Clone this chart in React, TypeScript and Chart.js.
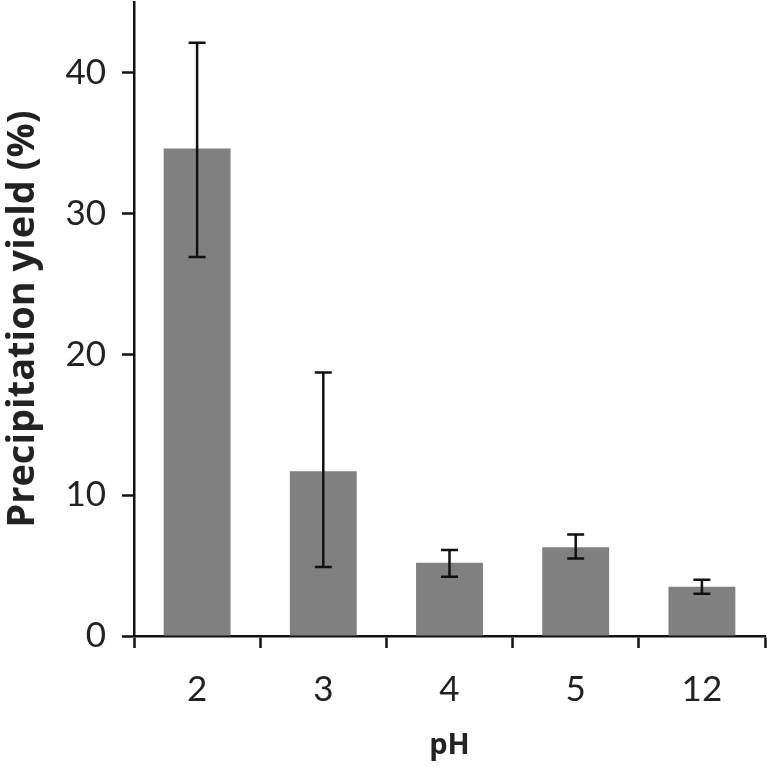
import React, { useEffect, useRef } from "react";
import { Chart, registerables } from "chart.js";

Chart.register(...registerables);

const categories = ["2", "3", "4", "5", "12"];
const yieldValues = [34.6, 11.7, 5.2, 6.3, 3.5];
const errorLow = [26.9, 4.9, 4.2, 5.5, 3.0];
const errorHigh = [42.1, 18.7, 6.1, 7.2, 4.0];
const yTickValues = [0, 10, 20, 30, 40];

const FONT = "Lato";
const TITLE_FONT = "Open Sans";

const errorBarPlugin = {
  id: "errorBars",
  afterDatasetsDraw(chart: any) {
    const ctx = chart.ctx;
    const meta = chart.getDatasetMeta(0);
    const y = chart.scales.y;
    ctx.save();
    ctx.strokeStyle = "#111";
    ctx.lineWidth = 2.5;
    meta.data.forEach((bar: any, i: number) => {
      const x = bar.x;
      const yl = y.getPixelForValue(errorLow[i]);
      const yh = y.getPixelForValue(errorHigh[i]);
      const cap = 8.5;
      ctx.beginPath();
      ctx.moveTo(x, yl);
      ctx.lineTo(x, yh);
      ctx.moveTo(x - cap, yl);
      ctx.lineTo(x + cap, yl);
      ctx.moveTo(x - cap, yh);
      ctx.lineTo(x + cap, yh);
      ctx.stroke();
    });
    ctx.restore();
  },
};

export default function App() {
  const ref = useRef<HTMLCanvasElement>(null);
  useEffect(() => {
    document.body.style.margin = "0";
    const chart = new Chart(ref.current!, {
      type: "bar",
      data: {
        labels: categories,
        datasets: [
          {
            data: yieldValues,
            backgroundColor: "#808080",
            borderWidth: 0,
            barPercentage: 0.53,
            categoryPercentage: 1,
          },
        ],
      },
      options: {
        animation: false,
        responsive: false,
        layout: { padding: { top: 2, right: 2, left: 0, bottom: 0 } },
        plugins: { legend: { display: false }, tooltip: { enabled: false } },
        scales: {
          x: {
            grid: {
              display: true,
              drawOnChartArea: false,
              drawTicks: true,
              tickLength: 12,
              tickWidth: 2.5,
              tickColor: "#111",
              offset: true,
            },
            border: { display: true, color: "#111", width: 2.5 },
            ticks: {
              color: "#222",
              font: { family: FONT, size: 35 },
              padding: 21,
            },
            title: {
              display: true,
              text: "pH",
              color: "#222",
              font: { family: TITLE_FONT, size: 29, weight: "bold" },
              padding: { top: 10, bottom: 4 },
            },
            afterFit(scale: any) {
              scale.height = 131;
              scale.paddingLeft = 0;
              scale.paddingRight = 0;
            },
          },
          y: {
            min: 0,
            max: 45,
            afterBuildTicks(scale: any) {
              scale.ticks = yTickValues.map((v) => ({ value: v }));
            },
            grid: {
              display: true,
              drawOnChartArea: false,
              drawTicks: true,
              tickLength: 12,
              tickWidth: 2.5,
              tickColor: "#111",
            },
            border: { display: true, color: "#111", width: 2.5 },
            ticks: {
              color: "#222",
              font: { family: FONT, size: 35 },
              padding: 16,
            },
            title: {
              display: true,
              text: "Precipitation yield (%)",
              color: "#222",
              font: { family: TITLE_FONT, size: 38, weight: "bold" },
              padding: { top: 0, bottom: 4 },
            },
            afterFit(scale: any) {
              scale.width = 134;
              scale.paddingTop = 0;
              scale.paddingBottom = 0;
            },
          },
        },
      },
      plugins: [errorBarPlugin],
    });
    return () => chart.destroy();
  }, []);
  return (
    <div style={{ width: 767, height: 767 }}>
      <canvas ref={ref} width={767} height={767} />
    </div>
  );
}
